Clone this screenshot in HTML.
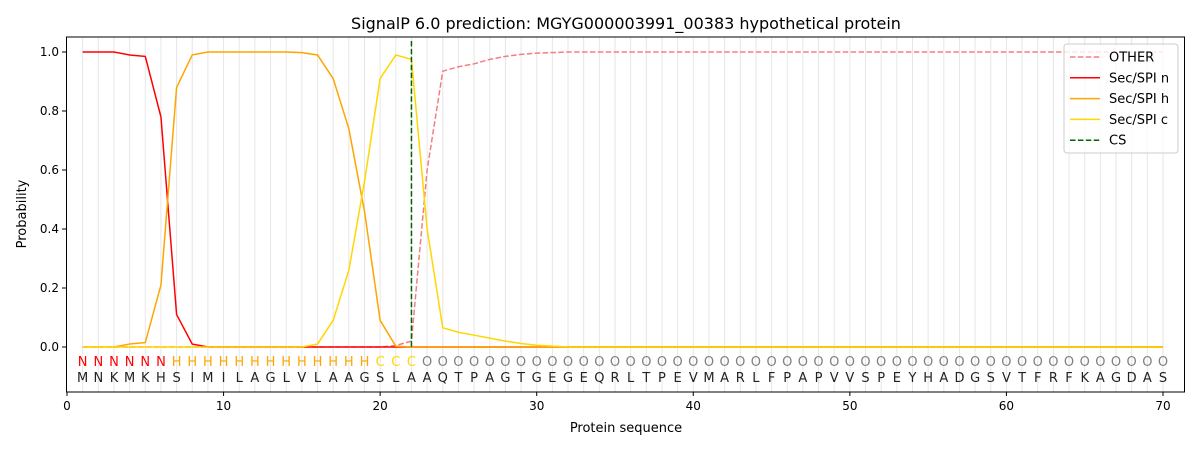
<!DOCTYPE html><html><head><style>body{margin:0;background:#fff}svg{font-family:"DejaVu Sans","Liberation Sans",sans-serif}</style></head><body>
<svg id="s" width="1200" height="450" xmlns="http://www.w3.org/2000/svg"></svg>
<script>
const X=i=>67+i*15.657, Y=v=>347-v*295;
let o='';
for(let i=1;i<=70;i++)o+=`<line x1="${X(i)}" y1="37" x2="${X(i)}" y2="392" stroke="#e6e6e6" stroke-width="1"/>`;
const z=n=>Array(n).fill(0);
const N=[1,1,1,0.99,0.985,0.78,0.11,0.01,...z(62)];
const H=[0,0,0,0.01,0.015,0.21,0.88,0.99,1,1,1,1,1,1,0.998,0.99,0.91,0.74,0.46,0.09,0.003,0,...z(48)];
const C=[...z(15),0.01,0.09,0.26,0.56,0.91,0.99,0.975,0.4,0.065,0.05,0.04,0.03,0.02,0.012,0.006,0.003,...z(39)];
const O=[...z(20),0.005,0.02,0.6,0.935,0.95,0.96,0.975,0.985,0.992,0.996,0.998,...Array(39).fill(1)];
const pl=(a,c,d)=>`<polyline fill="none" stroke="${c}" stroke-width="1.5" ${d?'stroke-dasharray="5.5,2.4"':''} points="${a.map((v,i)=>X(i+1)+','+Y(v)).join(' ')}"/>`;
o+=pl(O,'#f08080',1)+pl(N,'red')+pl(H,'orange')+pl(C,'gold');
o+=`<line x1="${X(22)}" y1="41" x2="${X(22)}" y2="347" stroke="darkgreen" stroke-width="1.5" stroke-dasharray="5.5,2.4"/>`;
const seq="MNKMKHSIMILAGLVLAAGSLAAQTPAGTGEGEQRLTPEVMARLFPAPVVSPEYHADGSVTFRFKAGDAS";
for(let i=1;i<=70;i++){let L,c;if(i<=6){L='N';c='red'}else if(i<=19){L='H';c='orange'}else if(i<=22){L='C';c='gold'}else{L='O';c='gray'}
o+=`<text x="${X(i)}" y="366" font-size="13" fill="${c}" text-anchor="middle">${L}</text><text x="${X(i)}" y="382" font-size="13" fill="#222" text-anchor="middle">${seq[i-1]}</text>`;}
o+=`<rect x="66.5" y="37" width="1118" height="355" fill="none" stroke="#000" stroke-width="1"/>`;
for(let t=0;t<=70;t+=10)o+=`<line x1="${X(t)}" y1="392" x2="${X(t)}" y2="396" stroke="#000"/><text x="${X(t)}" y="410" font-size="12" text-anchor="middle">${t}</text>`;
for(let k=0;k<=5;k++){let v=k*0.2;o+=`<line x1="62" y1="${Y(v)}" x2="66.5" y2="${Y(v)}" stroke="#000"/><text x="59" y="${Y(v)+4}" font-size="12" text-anchor="end">${v.toFixed(1)}</text>`;}
o+=`<text x="626" y="432" font-size="13" text-anchor="middle">Protein sequence</text>`;
o+=`<text x="26" y="214" font-size="13" text-anchor="middle" transform="rotate(-90 26 214)">Probability</text>`;
o+=`<text x="626" y="29" font-size="16" text-anchor="middle">SignalP 6.0 prediction: MGYG000003991_00383 hypothetical protein</text>`;
o+=`<rect x="1064" y="44" width="114" height="109" rx="3" fill="#fff" fill-opacity="0.8" stroke="#ccc"/>`;
[['OTHER','#f08080',1],['Sec/SPI n','red'],['Sec/SPI h','orange'],['Sec/SPI c','gold'],['CS','darkgreen',1]].forEach((e,j)=>{let y=57+j*20.8;
o+=`<line x1="1070" y1="${y}" x2="1100" y2="${y}" stroke="${e[1]}" stroke-width="1.5" ${e[2]?'stroke-dasharray="5.5,2.4"':''}/><text x="1109" y="${y+4.5}" font-size="13">${e[0]}</text>`;});
document.getElementById('s').innerHTML=o;
</script></body></html>
